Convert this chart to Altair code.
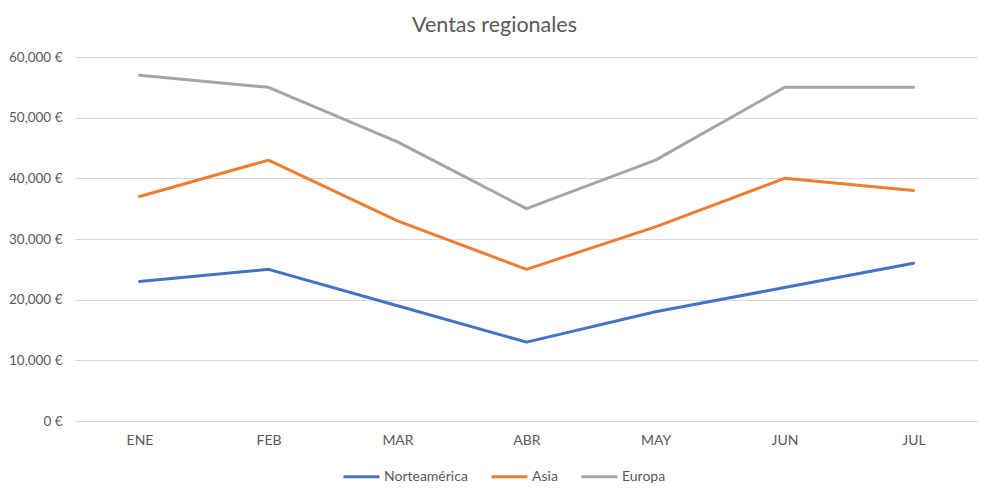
import altair as alt
import pandas as pd

months = ["ENE", "FEB", "MAR", "ABR", "MAY", "JUN", "JUL"]
norteamerica = [23000, 25000, 19000, 13000, 18000, 22000, 26000]
asia = [37000, 43000, 33000, 25000, 32000, 40000, 38000]
europa = [57000, 55000, 46000, 35000, 43000, 55000, 55000]
series = ["Norteamérica", "Asia", "Europa"]
colors = ["#4472C4", "#ED7D31", "#A5A5A5"]
y_ticks = [0, 10000, 20000, 30000, 40000, 50000, 60000]

rows = []
for name, vals in zip(series, [norteamerica, asia, europa]):
    for i, (m, v) in enumerate(zip(months, vals)):
        rows.append({"Mes": m, "Región": name, "Ventas": v, "idx": i})
df = pd.DataFrame(rows)

FONT = "Lato"
TXT = "#595959"

chart = alt.Chart(df).mark_line(
    strokeWidth=3, strokeCap="round", strokeJoin="round"
).encode(
    x=alt.X(
        "Mes:N", sort=months,
        scale=alt.Scale(type="point", padding=0.5),
        axis=alt.Axis(title=None, labelAngle=0, grid=False, domain=False, ticks=False,
                      labelPadding=12, labelFont=FONT, labelFontSize=14, labelColor=TXT),
    ),
    y=alt.Y(
        "Ventas:Q",
        scale=alt.Scale(domain=[0, 60000]),
        axis=alt.Axis(title=None, values=y_ticks, labelExpr="format(datum.value, ',') + ' €'",
                      domain=False, ticks=False, gridColor="#d9d9d9", gridWidth=1,
                      labelPadding=13, labelFont=FONT, labelFontSize=13.5, labelColor=TXT),
    ),
    color=alt.Color(
        "Región:N", sort=series,
        scale=alt.Scale(domain=series, range=colors),
        legend=alt.Legend(
            title=None, orient="none", direction="horizontal",
            legendX=267, legendY=400, padding=0,
            symbolType="stroke", symbolStrokeWidth=3, symbolSize=1296,
            labelFont=FONT, labelFontSize=14, labelColor=TXT, labelOffset=3,
            columnPadding=17,
        ),
    ),
    order=alt.Order("idx:Q"),
).properties(
    width=903, height=364,
    title=alt.TitleParams("Ventas regionales", font=FONT, fontSize=21.5, fontWeight="normal",
                          color=TXT, anchor="middle", dx=-32, offset=14),
    autosize=alt.AutoSizeParams(type="none"),
    padding={"left": 67, "top": 49, "right": 0, "bottom": 70},
).configure_view(stroke=None)

chart.save("out.html", embed_options={"renderer": "svg", "actions": False})
